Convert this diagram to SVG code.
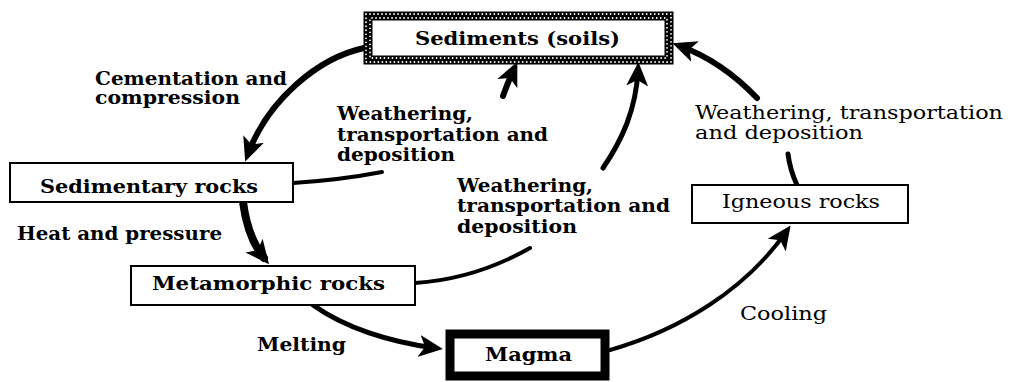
<svg xmlns="http://www.w3.org/2000/svg" width="1014" height="382" viewBox="0 0 1014 382">
<defs>
<style>
text{font-family:"DejaVu Serif","Liberation Serif",serif;font-size:18px;fill:#000}
.b{font-weight:bold}
.n{font-weight:normal}
.box{fill:#fff;stroke:#000;stroke-width:2}
.c{fill:none;stroke:#000;stroke-linecap:round}
.dots{fill:none;stroke:#fff;stroke-width:1.8;stroke-dasharray:0.01 4;stroke-linecap:round}
</style>
<marker id="ah" viewBox="0 0 24 24" refX="16" refY="12" markerWidth="24" markerHeight="24" markerUnits="userSpaceOnUse" orient="auto">
<path d="M0,1 L24,12 L0,23 L6,12 z" fill="#000"/>
</marker>
</defs>
<rect width="1014" height="382" fill="#fff"/>
<g id="connectors">
<path class="c" d="M364,48 C318,58 268,100 248,154" stroke-width="6" marker-end="url(#ah)"/>
<path class="c" d="M503,96 Q508,82 514,69" stroke-width="6" marker-end="url(#ah)"/>
<path class="c" d="M603,168 C622,140 636,110 638,70" stroke-width="5" marker-end="url(#ah)"/>
<path class="c" d="M757,98 C735,75 710,57 680,46" stroke-width="6" marker-end="url(#ah)"/>
<path class="c" d="M797,185 Q790,170 788,154" stroke-width="5"/>
<path class="c" d="M293,183 Q340,180 382,172" stroke-width="4"/>
<path class="c" d="M243,202 C246,225 252,243 264,258" stroke-width="8" marker-end="url(#ah)"/>
<path class="c" d="M415,283 C460,280 500,265 530,248" stroke-width="4"/>
<path class="c" d="M313,305 C345,328 390,342 435,348" stroke-width="5" marker-end="url(#ah)"/>
<path class="c" d="M610,350 C680,330 745,290 786,232" stroke-width="4" marker-end="url(#ah)"/>
</g>
<g id="sediments">
<rect x="368" y="16" width="301" height="44" fill="#fff" stroke="#000" stroke-width="9"/>
<rect class="dots" x="366" y="14" width="305" height="48"/>
<rect class="dots" x="370" y="18" width="297" height="40" stroke-dashoffset="2"/>
<text class="b" x="415" y="45" textLength="205" lengthAdjust="spacingAndGlyphs">Sediments (soils)</text>
</g>
<g id="sedimentary-rocks">
<rect class="box" x="10" y="163" width="283" height="39"/>
<text class="b" x="40" y="193" textLength="218" lengthAdjust="spacingAndGlyphs">Sedimentary rocks</text>
</g>
<g id="metamorphic-rocks">
<rect class="box" x="131" y="266" width="284" height="39"/>
<text class="b" x="152" y="290" textLength="233" lengthAdjust="spacingAndGlyphs">Metamorphic rocks</text>
</g>
<g id="magma">
<rect x="450" y="334" width="155" height="42" fill="#fff" stroke="#000" stroke-width="9"/>
<text class="b" x="485" y="361" textLength="87" lengthAdjust="spacingAndGlyphs">Magma</text>
</g>
<g id="igneous-rocks">
<rect class="box" x="692" y="185" width="216" height="38"/>
<text class="n" x="722" y="208" textLength="158" lengthAdjust="spacingAndGlyphs">Igneous rocks</text>
</g>
<g id="labels">
<text class="b" x="95" y="85" textLength="192" lengthAdjust="spacingAndGlyphs">Cementation and</text>
<text class="b" x="95" y="104" textLength="145" lengthAdjust="spacingAndGlyphs">compression</text>
<text class="b" x="337" y="120" textLength="136" lengthAdjust="spacingAndGlyphs">Weathering,</text>
<text class="b" x="337" y="141" textLength="211" lengthAdjust="spacingAndGlyphs">transportation and</text>
<text class="b" x="337" y="161" textLength="118" lengthAdjust="spacingAndGlyphs">deposition</text>
<text class="b" x="457" y="192" textLength="136" lengthAdjust="spacingAndGlyphs">Weathering,</text>
<text class="b" x="457" y="212" textLength="213" lengthAdjust="spacingAndGlyphs">transportation and</text>
<text class="b" x="457" y="233" textLength="120" lengthAdjust="spacingAndGlyphs">deposition</text>
<text class="n" x="695" y="119" textLength="308" lengthAdjust="spacingAndGlyphs">Weathering, transportation</text>
<text class="n" x="695" y="139" textLength="168" lengthAdjust="spacingAndGlyphs">and deposition</text>
<text class="b" x="17" y="240" textLength="205" lengthAdjust="spacingAndGlyphs">Heat and pressure</text>
<text class="b" x="257" y="351" textLength="89" lengthAdjust="spacingAndGlyphs">Melting</text>
<text class="n" x="740" y="320" textLength="87" lengthAdjust="spacingAndGlyphs">Cooling</text>
</g>
</svg>
